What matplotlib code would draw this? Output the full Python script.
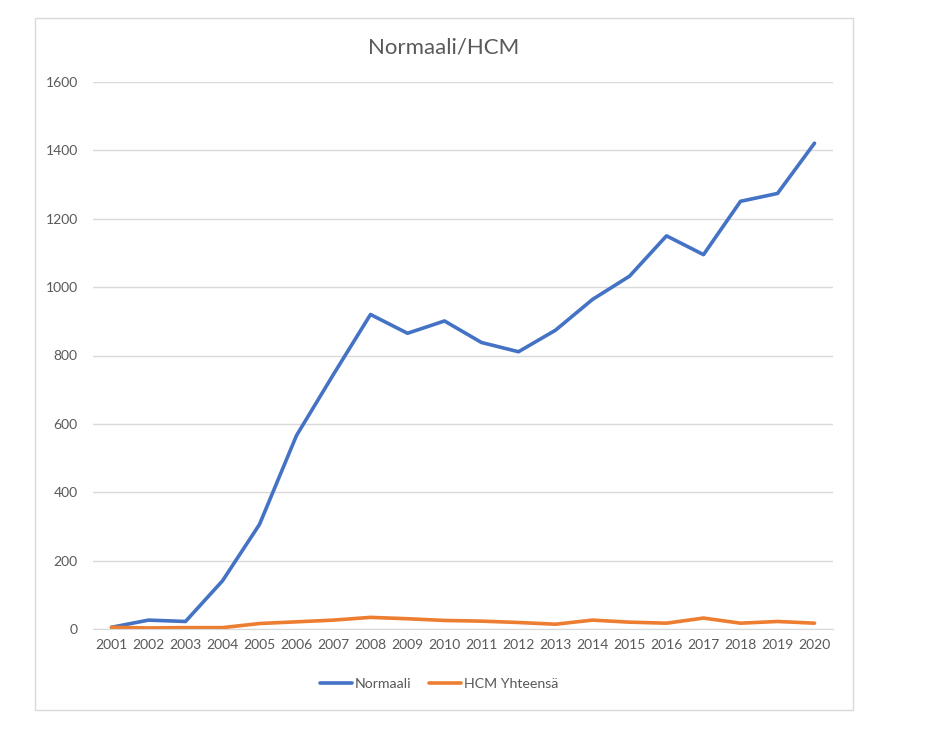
import matplotlib
matplotlib.use("Agg")
import matplotlib.pyplot as plt
from matplotlib.patches import Rectangle

years = [str(y) for y in range(2001, 2021)]
normaali = [5, 26, 22, 141, 306, 566, 745, 920, 865, 901, 838, 811, 874, 964, 1032, 1150, 1095, 1251, 1274, 1421]
hcm = [5, 3, 4, 4, 16, 21, 26, 34, 30, 25, 23, 19, 14, 26, 20, 17, 32, 17, 22, 17]
yticks = [0, 200, 400, 600, 800, 1000, 1200, 1400, 1600]

plt.rcParams['font.family'] = ['Lato', 'DejaVu Sans']
text_color = '#595959'
grid_color = '#D9D9D9'

fig = plt.figure(figsize=(9.31, 7.35), dpi=100)
W, H = 931, 735

# chart border
fig.patches.append(Rectangle((35 / W, 1 - 710 / H), (853 - 35) / W, (710 - 18) / H,
                             transform=fig.transFigure, fill=False,
                             edgecolor=grid_color, linewidth=1.0))

ax = fig.add_axes([93 / W, 1 - 629 / H, (833 - 93) / W, (629 - 82) / H])
x = list(range(len(years)))
ax.plot(x, normaali, color='#4472C4', linewidth=2.6, label='Normaali', solid_capstyle='round', solid_joinstyle='round')
ax.plot(x, hcm, color='#ED7D31', linewidth=2.6, label='HCM Yhteensä', solid_capstyle='round', solid_joinstyle='round')

ax.set_xlim(-0.5, len(years) - 0.5)
ax.set_ylim(0, 1600)
ax.set_yticks(yticks)
ax.set_xticks(x)
ax.set_xticklabels(years)
ax.yaxis.grid(True, color=grid_color, linewidth=1.0)
ax.set_axisbelow(True)
for s in ['top', 'right', 'left']:
    ax.spines[s].set_visible(False)
ax.spines['bottom'].set_color(grid_color)
ax.tick_params(axis='both', length=0, labelsize=10, colors=text_color)
ax.tick_params(axis='y', pad=11)
ax.tick_params(axis='x', pad=7)

fig.text(444 / W, 1 - 47 / H, 'Normaali/HCM', ha='center', va='center',
         fontsize=16, color=text_color)

leg = fig.legend(loc='center', bbox_to_anchor=(439 / W, 1 - 684 / H), ncol=2,
                 frameon=False, fontsize=10.2, handlelength=2.3, handletextpad=0.2,
                 columnspacing=1.2)
for t in leg.get_texts():
    t.set_color(text_color)

fig.savefig('out.png', dpi=100)
